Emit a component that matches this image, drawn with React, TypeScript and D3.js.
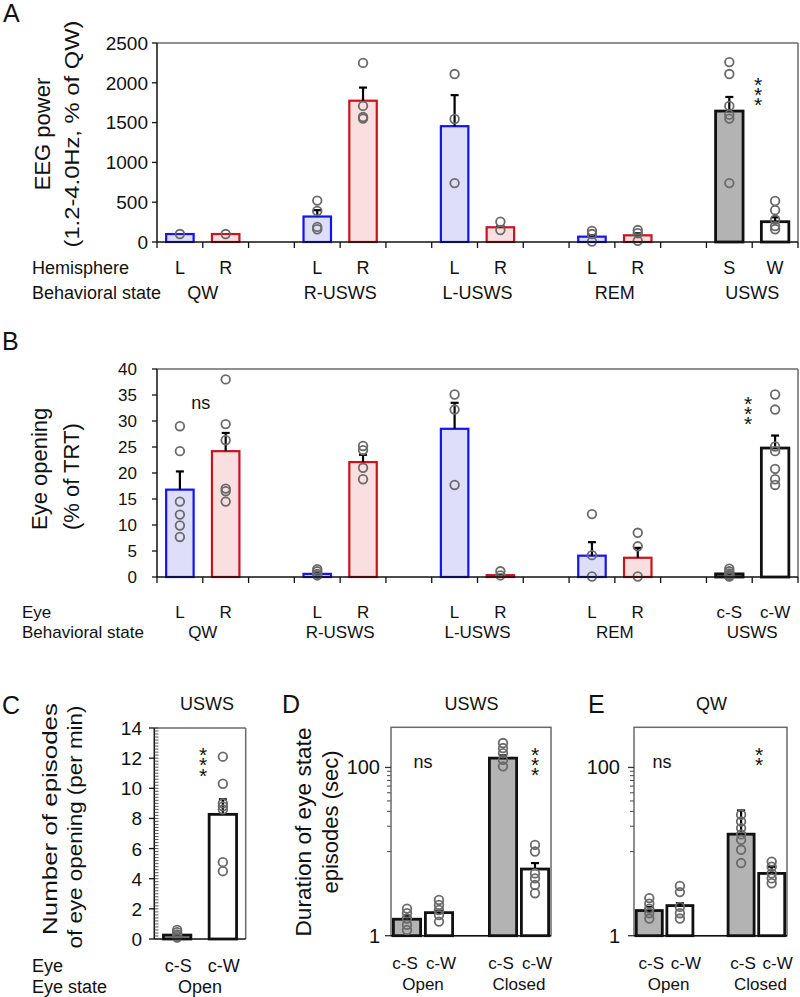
import React from "react";
import * as d3 from "d3";

const FONT = "'Liberation Sans', Arial, Helvetica, sans-serif";

// ---------- Panels A & B (shared categories) ----------
const states = ["QW", "R-USWS", "L-USWS", "REM", "USWS"];
const hemisphereLabels = ["L", "R", "L", "R", "L", "R", "L", "R", "S", "W"];
const eyeLabels = ["L", "R", "L", "R", "L", "R", "L", "R", "c-S", "c-W"];
const barKinds = ["blue", "red", "blue", "red", "blue", "red", "blue", "red", "gray", "white"];

// Panel A: EEG power (1.2-4.0 Hz, % of QW)
const eegTicks = [0, 500, 1000, 1500, 2000, 2500];
const eegMean = [100, 100, 320, 1775, 1455, 185, 67, 84, 1645, 255];
const eegSem = [0, 0, 80, 165, 390, 15, 20, 25, 177, 55];
const eegPoints = [
  [100], [100],
  [520, 390, 190, 160], [2250, 1710, 1570, 1550],
  [2110, 1545, 740], [255, 150],
  [140, 100, 5], [150, 110, 15],
  [2260, 2110, 1710, 1600, 1550, 740], [515, 400, 280, 200, 160],
];

// Panel B: Eye opening (% of TRT)
const eyeTicks = [0, 5, 10, 15, 20, 25, 30, 35, 40];
const eyeMean = [16.8, 24.2, 0.6, 22.1, 28.5, 0.35, 4.1, 3.7, 0.6, 24.8];
const eyeSem = [3.5, 3.5, 0.2, 1.4, 5.0, 0.1, 2.6, 1.9, 0.2, 2.4];
const eyePoints = [
  [29, 24.2, 14.5, 12, 9.9, 7.7], [38, 29.4, 26.3, 17, 16.5, 14.5],
  [1.5, 1.1, 0.6, 0.3], [25.2, 24.4, 21, 18.8],
  [35.1, 32.2, 17.7], [1.1, 0.3],
  [12.1, 4.2, 0.1], [8.5, 5.9, 0.1],
  [1.6, 1.1, 0.7, 0.4, 0.2, 0.1], [35.1, 32.2, 25.1, 24.2, 20.8, 18.8, 17.7],
];

// Panel C: Number of episodes of eye opening (per min), USWS
const cCategories = ["c-S", "c-W"];
const cTicks = [0, 2, 4, 6, 8, 10, 12, 14];
const cMean = [0.26, 8.27];
const cSem = [0.05, 1.0];
const cPoints = [[0.6, 0.45, 0.3, 0.2, 0.1], [12.1, 10.3, 9.0, 8.8, 8.6, 5.1, 4.5]];

// Panels D & E: Duration of eye state episodes (sec), log scale
const eyeStates = ["Open", "Closed"];
const eyeSides = ["c-S", "c-W"];
const durTicks = [1, 100];
const durMinorTicks = [10, 20, 30, 40, 50, 60, 70, 80, 90];
const dMean = [1.57, 1.88, 129, 6.2];
const dSem = [0.15, 0.1, 10, 1.1];
const dPoints = [
  [2.1, 1.85, 1.6, 1.35, 1.17], [2.66, 2.32, 2.02, 1.76, 1.47],
  [195, 170, 148, 123, 103], [12, 10, 5.5, 4.8, 4.0, 3.2],
];
const eMean = [1.99, 2.28, 16.1, 5.5];
const eSem = [0.2, 0.15, 14.7, 1.1];
const ePoints = [
  [2.8, 2.4, 2.1, 1.85, 1.6], [3.9, 3.3, 2.2, 1.85, 1.6],
  [27.4, 22.8, 19, 16, 13.8, 10.5, 7.3], [7.6, 6.6, 5.5, 4.8, 4.2],
];

const STYLE: any = {
  blue: { stroke: "#1414ee", fill: "#dedef9", sw: 2.2 },
  red: { stroke: "#c8141e", fill: "#f9dfdf", sw: 2.2 },
  gray: { stroke: "#111", fill: "#b3b3b3", sw: 2.8 },
  white: { stroke: "#111", fill: "#ffffff", sw: 2.8 },
};

function Bar({ cx, bw, y, y0, mean, sem, points, kind }: any) {
  const s = STYLE[kind];
  const top = y(mean);
  const et = y(mean + sem);
  return (
    <g>
      <rect x={cx - bw / 2} y={top} width={bw} height={Math.max(0, y0 - top)} fill={s.fill} stroke={s.stroke} strokeWidth={s.sw} />
      {sem > 0 && (
        <g stroke="#000" strokeWidth={2.2}>
          <line x1={cx} x2={cx} y1={top} y2={et} />
          <line x1={cx - 4} x2={cx + 4} y1={et} y2={et} />
        </g>
      )}
      {points.map((p: number, i: number) => (
        <circle key={i} cx={cx} cy={y(p)} r={4.3} fill="none" stroke="#6a6a6a" strokeWidth={1.8} />
      ))}
    </g>
  );
}

// Vertical stack of significance asterisks: one text element, each glyph given
// its own absolute position through x/y coordinate lists.
// (x, yTop) = centre of the first asterisk.
function Stars({ x, yTop, n }: any) {
  const ys = d3.range(n).map((i) => (yTop + 12 + i * 10.3).toFixed(1)).join(" ");
  const xs = d3.range(n).map(() => x.toFixed(1)).join(" ");
  return (
    <text x={xs} y={ys} fontFamily={FONT} fontSize={21} textAnchor="middle" fill="#111">{"*".repeat(n)}</text>
  );
}

const LEFT_AB = 157;
const RIGHT_AB = 798;
const slotKeys: string[] = [];
states.forEach((s, i) => {
  slotKeys.push(`${s}|0`, `${s}|1`);
  if (i < states.length - 1) slotKeys.push(`${s}|gap`);
});
const xAB = d3.scaleBand<string>().domain(slotKeys).range([LEFT_AB, RIGHT_AB]).paddingInner(0.4).paddingOuter(0.2);
const barKey = (j: number) => `${states[Math.floor(j / 2)]}|${j % 2}`;
const cAB = (j: number) => (xAB(barKey(j)) as number) + xAB.bandwidth() / 2;
const boundaries = slotKeys.map((k) => (xAB(k) as number) - xAB.step() * 0.2).concat([RIGHT_AB]);
const stateCenter = (i: number) => (cAB(2 * i) + cAB(2 * i + 1)) / 2;

function CategoricalPanel({ y, top, bottom, ticks, means, sems, points, tickRight, tickFont }: any) {
  return (
    <g>
      <line x1={LEFT_AB} x2={RIGHT_AB} y1={top} y2={top} stroke="#6a6a6a" strokeWidth={1.5} />
      <line x1={RIGHT_AB} x2={RIGHT_AB} y1={top} y2={bottom} stroke="#6a6a6a" strokeWidth={1.5} />
      {means.map((m: number, j: number) => (
        <Bar key={j} cx={cAB(j)} bw={xAB.bandwidth()} y={y} y0={bottom} mean={m} sem={sems[j]} points={points[j]} kind={barKinds[j]} />
      ))}
      <line x1={LEFT_AB} x2={LEFT_AB} y1={top} y2={bottom} stroke="#111" strokeWidth={1.5} />
      <line x1={LEFT_AB} x2={RIGHT_AB} y1={bottom} y2={bottom} stroke="#111" strokeWidth={1.5} />
      {ticks.map((t: number) => (
        <g key={t}>
          <line x1={LEFT_AB - 5} x2={LEFT_AB} y1={y(t)} y2={y(t)} stroke="#111" strokeWidth={1.3} />
          <text x={tickRight} y={y(t) + tickFont * 0.36} textAnchor="end" fontSize={tickFont} fontFamily={FONT} fill="#111">{t}</text>
        </g>
      ))}
      {boundaries.map((b, i) => (
        <line key={i} x1={b} x2={b} y1={bottom} y2={bottom + 6} stroke="#111" strokeWidth={1.3} />
      ))}
    </g>
  );
}

function LogPanel({ left, right, means, sems, points, y, tickRight, labelShift }: any) {
  const keys = ["Open|c-S", "Open|c-W", "gap", "Closed|c-S", "Closed|c-W"];
  const x = d3.scaleBand<string>().domain(keys).range([left, right]).paddingInner(0.15).paddingOuter(0.075);
  const barKeys = ["Open|c-S", "Open|c-W", "Closed|c-S", "Closed|c-W"];
  const [b0, b1] = y.range();
  const bc = (k: string) => (x(k) as number) + x.bandwidth() / 2;
  return (
    <g>
      <rect x={left} y={b1} width={right - left} height={b0 - b1} fill="none" stroke="#6a6a6a" strokeWidth={1.5} />
      {means.map((m: number, j: number) => (
        <Bar key={j} cx={bc(barKeys[j])} bw={x.bandwidth()} y={y} y0={b0}
          mean={m} sem={sems[j]} points={points[j]} kind={j % 2 === 0 ? "gray" : "white"} />
      ))}
      <line x1={left} x2={right} y1={b0} y2={b0} stroke="#111" strokeWidth={1.5} />
      {durMinorTicks.map((t) => (
        <line key={t} x1={left - 4} x2={left} y1={y(t)} y2={y(t)} stroke="#555" strokeWidth={1.1} />
      ))}
      {durTicks.map((t) => (
        <g key={t}>
          <line x1={left - 6} x2={left} y1={y(t)} y2={y(t)} stroke="#333" strokeWidth={1.3} />
          <text x={tickRight} y={y(t) + 7} textAnchor="end" fontSize={20} fontFamily={FONT} fill="#111">{t}</text>
        </g>
      ))}
      <g fontFamily={FONT} fontSize={17} textAnchor="middle" fill="#111">
        {barKeys.map((k, j) => (
          <text key={k} x={bc(k) + labelShift + (j % 2 === 0 ? -2 : 2)} y={968.5}>{eyeSides[j % 2]}</text>
        ))}
        {eyeStates.map((s, i) => (
          <text key={s} x={(bc(barKeys[2 * i]) + bc(barKeys[2 * i + 1])) / 2 + labelShift} y={990}>{s}</text>
        ))}
      </g>
    </g>
  );
}

export default function App() {
  const yA = d3.scaleLinear().domain([0, 2500]).range([242, 43]);
  const yB = d3.scaleLinear().domain([0, 40]).range([577, 369]);
  const yC = d3.scaleLinear().domain([0, 14]).range([939, 728]);
  const xC = d3.scaleBand<string>().domain(cCategories).range([154.3, 245.7]).paddingInner(0.4).paddingOuter(0.2);
  const cxC = (k: string) => (xC(k) as number) + xC.bandwidth() / 2;
  const yLog = d3.scaleLog().domain([1, 300]).range([935.7, 727.3]);
  const cMinor = yC.ticks(70);

  const wBoundary = boundaries[13];

  return (
    <svg width={800} height={997} style={{ position: "absolute", left: 0, top: 0, background: "#fff" }} fontFamily={FONT}>
      <rect x={0} y={0} width={800} height={997} fill="#fff" />

      {/* ===== Panel A ===== */}
      <text x={3} y={22} fontSize={25} fill="#111">A</text>
      <CategoricalPanel y={yA} top={43} bottom={242} ticks={eegTicks} means={eegMean} sems={eegSem} points={eegPoints} tickRight={148} tickFont={19} />
      <text transform="translate(50,134) rotate(-90)" textAnchor="middle" fontSize={22} fill="#111">EEG power</text>
      <text transform="translate(79,134) rotate(-90)" textAnchor="middle" fontSize={21} fill="#111" textLength={227} lengthAdjust="spacingAndGlyphs">(1.2-4.0Hz, % of QW)</text>
      <Stars x={wBoundary + 6} yTop={yA(2040)} n={3} />
      <g fontSize={18} fill="#111">
        <text x={32} y={273.5}>Hemisphere</text>
        <text x={32} y={298.5}>Behavioral state</text>
        {hemisphereLabels.map((l, j) => (
          <text key={j} x={cAB(j)} y={273.5} textAnchor="middle">{l}</text>
        ))}
        {states.map((s, i) => (
          <text key={s} x={stateCenter(i)} y={298.5} textAnchor="middle">{s}</text>
        ))}
      </g>

      {/* ===== Panel B ===== */}
      <text x={2} y={350} fontSize={25} fill="#111">B</text>
      <CategoricalPanel y={yB} top={369} bottom={577} ticks={eyeTicks} means={eyeMean} sems={eyeSem} points={eyePoints} tickRight={137} tickFont={17} />
      <text transform="translate(47,530) rotate(-90)" textAnchor="start" fontSize={22} fill="#111">Eye opening</text>
      <text transform="translate(79,530) rotate(-90)" textAnchor="start" fontSize={22} fill="#111">(% of TRT)</text>
      <text x={boundaries[1] - 2} y={yB(33.5) + 6} textAnchor="middle" fontSize={18} fill="#111">ns</text>
      <Stars x={wBoundary - 4} yTop={yB(34.3)} n={3} />
      <g fontSize={17} fill="#111">
        <text x={22} y={618}>Eye</text>
        <text x={22} y={638}>Behavioral state</text>
        {eyeLabels.map((l, j) => (
          <text key={j} x={cAB(j)} y={618} textAnchor="middle">{l}</text>
        ))}
        {states.map((s, i) => (
          <text key={s} x={stateCenter(i)} y={638} textAnchor="middle">{s}</text>
        ))}
      </g>

      {/* ===== Panel C ===== */}
      <text x={2} y={714} fontSize={25} fill="#111">C</text>
      <text x={207} y={709.5} textAnchor="middle" fontSize={18} fill="#111">USWS</text>
      <line x1={154.3} x2={245.7} y1={728} y2={728} stroke="#6a6a6a" strokeWidth={1.5} />
      <line x1={245.7} x2={245.7} y1={728} y2={939} stroke="#6a6a6a" strokeWidth={1.5} />
      {cCategories.map((k, j) => (
        <Bar key={k} cx={cxC(k)} bw={xC.bandwidth()} y={yC} y0={939} mean={cMean[j]} sem={cSem[j]} points={cPoints[j]} kind={j === 0 ? "gray" : "white"} />
      ))}
      <line x1={154.3} x2={154.3} y1={728} y2={939} stroke="#111" strokeWidth={1.5} />
      <line x1={154.3} x2={245.7} y1={939} y2={939} stroke="#111" strokeWidth={1.5} />
      {cMinor.map((t, i) => (
        <line key={i} x1={154.3} x2={158.5} y1={yC(t)} y2={yC(t)} stroke="#444" strokeWidth={0.9} />
      ))}
      {cTicks.map((t) => (
        <g key={t}>
          <line x1={149} x2={154.3} y1={yC(t)} y2={yC(t)} stroke="#111" strokeWidth={1.3} />
          <text x={142} y={yC(t) + 7} textAnchor="end" fontSize={19} fill="#111">{t}</text>
        </g>
      ))}
      <Stars x={(xC("c-W") as number) - xC.step() * 0.2 + 3} yTop={yC(12.55)} n={3} />
      <text transform="translate(57,819) rotate(-90)" textAnchor="middle" fontSize={21} fill="#111" textLength={232} lengthAdjust="spacingAndGlyphs">Number of episodes</text>
      <text transform="translate(82,827) rotate(-90)" textAnchor="middle" fontSize={21} fill="#111" textLength={243} lengthAdjust="spacingAndGlyphs">of eye opening (per min)</text>
      <g fontSize={18} fill="#111">
        <text x={32} y={971.5}>Eye</text>
        <text x={32} y={993}>Eye state</text>
        {cCategories.map((k) => (
          <text key={k} x={cxC(k) + 1} y={971.5} textAnchor="middle">{k}</text>
        ))}
        <text x={(cxC("c-S") + cxC("c-W")) / 2} y={993} textAnchor="middle">{eyeStates[0]}</text>
      </g>

      {/* ===== Panel D ===== */}
      <text x={282} y={713} fontSize={25} fill="#111">D</text>
      <text x={471.5} y={709.5} textAnchor="middle" fontSize={18} fill="#111">USWS</text>
      <LogPanel left={391} right={551} means={dMean} sems={dSem} points={dPoints} y={yLog} tickRight={380} labelShift={0} />
      <text transform="translate(311,832) rotate(-90)" textAnchor="middle" fontSize={22} fill="#111" textLength={209} lengthAdjust="spacingAndGlyphs">Duration of eye state</text>
      <text transform="translate(338,822) rotate(-90)" textAnchor="middle" fontSize={22} fill="#111">episodes (sec)</text>
      <text x={423} y={yLog(115) + 6} textAnchor="middle" fontSize={18} fill="#111">ns</text>
      <Stars x={535} yTop={yLog(163)} n={3} />

      {/* ===== Panel E ===== */}
      <text x={588} y={713} fontSize={25} fill="#111">E</text>
      <text x={711.5} y={709.5} textAnchor="middle" fontSize={18} fill="#111">QW</text>
      <LogPanel left={634} right={787} means={eMean} sems={eSem} points={ePoints} y={yLog} tickRight={620} labelShift={4} />
      <text x={662} y={yLog(116) + 6} textAnchor="middle" fontSize={18} fill="#111">ns</text>
      <Stars x={759} yTop={yLog(163)} n={2} />
    </svg>
  );
}
